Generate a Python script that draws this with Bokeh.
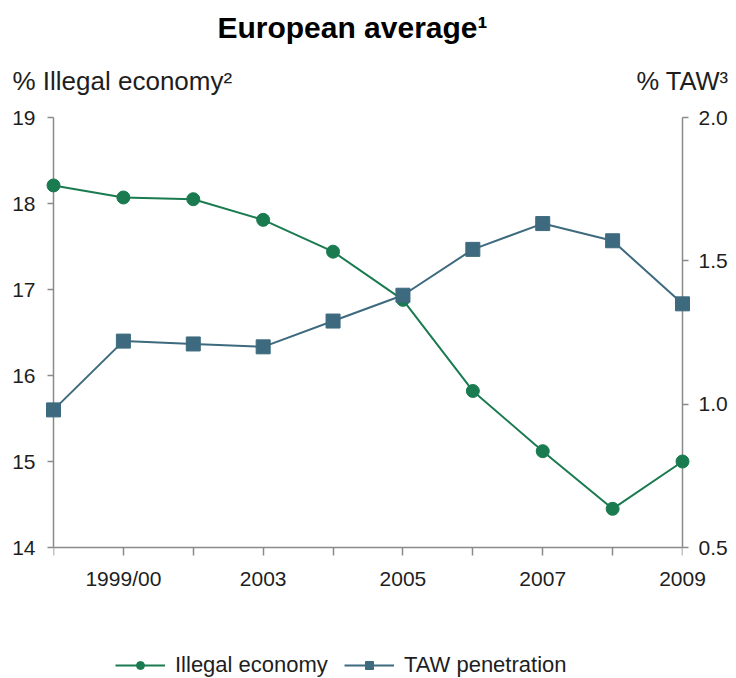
from bokeh.plotting import figure
from bokeh.models import (Range1d, LinearAxis, FixedTicker, Legend,
                          LegendItem, NumeralTickFormatter)
from bokeh.core.properties import value
from bokeh.embed import file_html
from bokeh.resources import INLINE

# ---- data -------------------------------------------------------------
periods = ["1998", "1999/00", "2002", "2003", "2004", "2005", "2006", "2007", "2008", "2009"]
period_labels = ["", "1999/00", "", "2003", "", "2005", "", "2007", "", "2009"]
illegal_economy = [18.21, 18.07, 18.05, 17.81, 17.44, 16.88, 15.82, 15.12, 14.45, 15.00]
taw_penetration = [0.98, 1.22, 1.21, 1.20, 1.29, 1.38, 1.54, 1.63, 1.57, 1.35]
left_ticks = [14, 15, 16, 17, 18, 19]
right_ticks = [0.5, 1.0, 1.5, 2.0]

title_text = "European average\u00b9"
left_title = "% Illegal economy\u00b2"
right_title = "% TAW\u00b3"
series_names = ["Illegal economy", "TAW penetration"]

# ---- styles -----------------------------------------------------------
FONT = "Liberation Sans"
GREEN = "#1a7a50"
BLUE = "#3d6a7e"
AXIS = "#8a8a8a"
TEXT = "#1e1e1e"

LEFT_MIN, LEFT_MAX = 14, 19
RIGHT_MIN, RIGHT_MAX = 0.5, 2.0
PLOT_PX, LEGEND_PX = 430, 131          # plot height and legend strip below it

xs = list(range(len(periods)))
left_pad = (LEFT_MAX - LEFT_MIN) * LEGEND_PX / PLOT_PX
right_pad = (RIGHT_MAX - RIGHT_MIN) * LEGEND_PX / PLOT_PX

p = figure(width=736, height=678, output_backend="svg", toolbar_location=None,
           x_axis_location=None,
           x_range=Range1d(0, len(periods) - 1),
           y_range=Range1d(LEFT_MIN - left_pad, LEFT_MAX),
           min_border_left=53, min_border_right=54, min_border_top=117,
           min_border_bottom=0, background_fill_color="white",
           border_fill_color="white", outline_line_color=None)
p.extra_y_ranges = {"taw": Range1d(RIGHT_MIN - right_pad, RIGHT_MAX)}
p.xgrid.visible = False
p.ygrid.visible = False


def style_axis(ax, tick_out, standoff):
    ax.axis_line_color = AXIS
    ax.axis_line_width = 1.5
    ax.major_tick_line_color = AXIS
    ax.major_tick_line_width = 1.5
    ax.major_tick_in = 0
    ax.major_tick_out = tick_out
    ax.minor_tick_line_color = None
    ax.major_label_text_font = FONT
    ax.major_label_text_font_size = "21px"
    ax.major_label_text_color = TEXT
    ax.major_label_standoff = standoff


# x axis pinned at the bottom of the value scale (y = 14); ticks point down
xa = LinearAxis(ticker=FixedTicker(ticks=xs), fixed_location=LEFT_MIN,
                bounds=(0, len(periods) - 1))
style_axis(xa, 0, 0)
xa.major_tick_in = 8
xa.major_label_text_color = None
p.add_layout(xa, "above")

ya = p.yaxis[0]
ya.ticker = FixedTicker(ticks=left_ticks)
ya.bounds = (LEFT_MIN, LEFT_MAX)
style_axis(ya, 6, 12)

ra = LinearAxis(y_range_name="taw", ticker=FixedTicker(ticks=right_ticks),
                formatter=NumeralTickFormatter(format="0.0"),
                bounds=(RIGHT_MIN, RIGHT_MAX))
style_axis(ra, 6, 10)
p.add_layout(ra, "right")

# ---- series -----------------------------------------------------------
g_line = p.line(xs, illegal_economy, line_color=GREEN, line_width=2, level="overlay")
g_pts = p.scatter(xs, illegal_economy, marker="circle", size=13, fill_color=GREEN,
                  line_color=GREEN, level="overlay")
b_line = p.line(xs, taw_penetration, line_color=BLUE, line_width=2,
                y_range_name="taw", level="overlay")
b_pts = p.scatter(xs, taw_penetration, marker="square", size=14, fill_color=BLUE,
                  line_color=BLUE, y_range_name="taw", level="overlay")

# x tick labels (unclipped, so the last one at the right edge stays whole)
p.text(x=xs, y=[LEFT_MIN] * len(xs), text=period_labels, y_offset=31,
       text_font=value(FONT), text_font_size=value("21px"), text_color=TEXT,
       text_align="center", text_baseline="alphabetic", level="overlay")

legend = Legend(items=[LegendItem(label=series_names[0], renderers=[g_line, g_pts]),
                       LegendItem(label=series_names[1], renderers=[b_line, b_pts])],
                location=(62, 0), orientation="horizontal",
                padding=0, margin=0, spacing=16, label_standoff=10,
                glyph_width=50, glyph_height=20, label_height=20,
                label_text_font=FONT, label_text_font_size="22px",
                label_text_color=TEXT, border_line_color=None,
                background_fill_alpha=0)
p.add_layout(legend, "center")

# ---- texts (drawn as unclipped text glyphs) ----------------------------
p.text(x=[4.278], y=[20.046], text=[title_text], text_font=value(FONT),
       text_font_size=value("30px"), text_font_style="bold", text_color="black",
       text_align="center", text_baseline="alphabetic", level="overlay")
p.text(x=[-0.587], y=[19.43], text=[left_title], text_font=value(FONT),
       text_font_size=value("26px"), text_color=TEXT,
       text_align="left", text_baseline="alphabetic", level="overlay")
p.text(x=[9.658], y=[19.43], text=[right_title], text_font=value(FONT),
       text_font_size=value("25.5px"), text_color=TEXT,
       text_align="right", text_baseline="alphabetic", level="overlay")

open("out.html", "w").write(file_html(p, INLINE))
